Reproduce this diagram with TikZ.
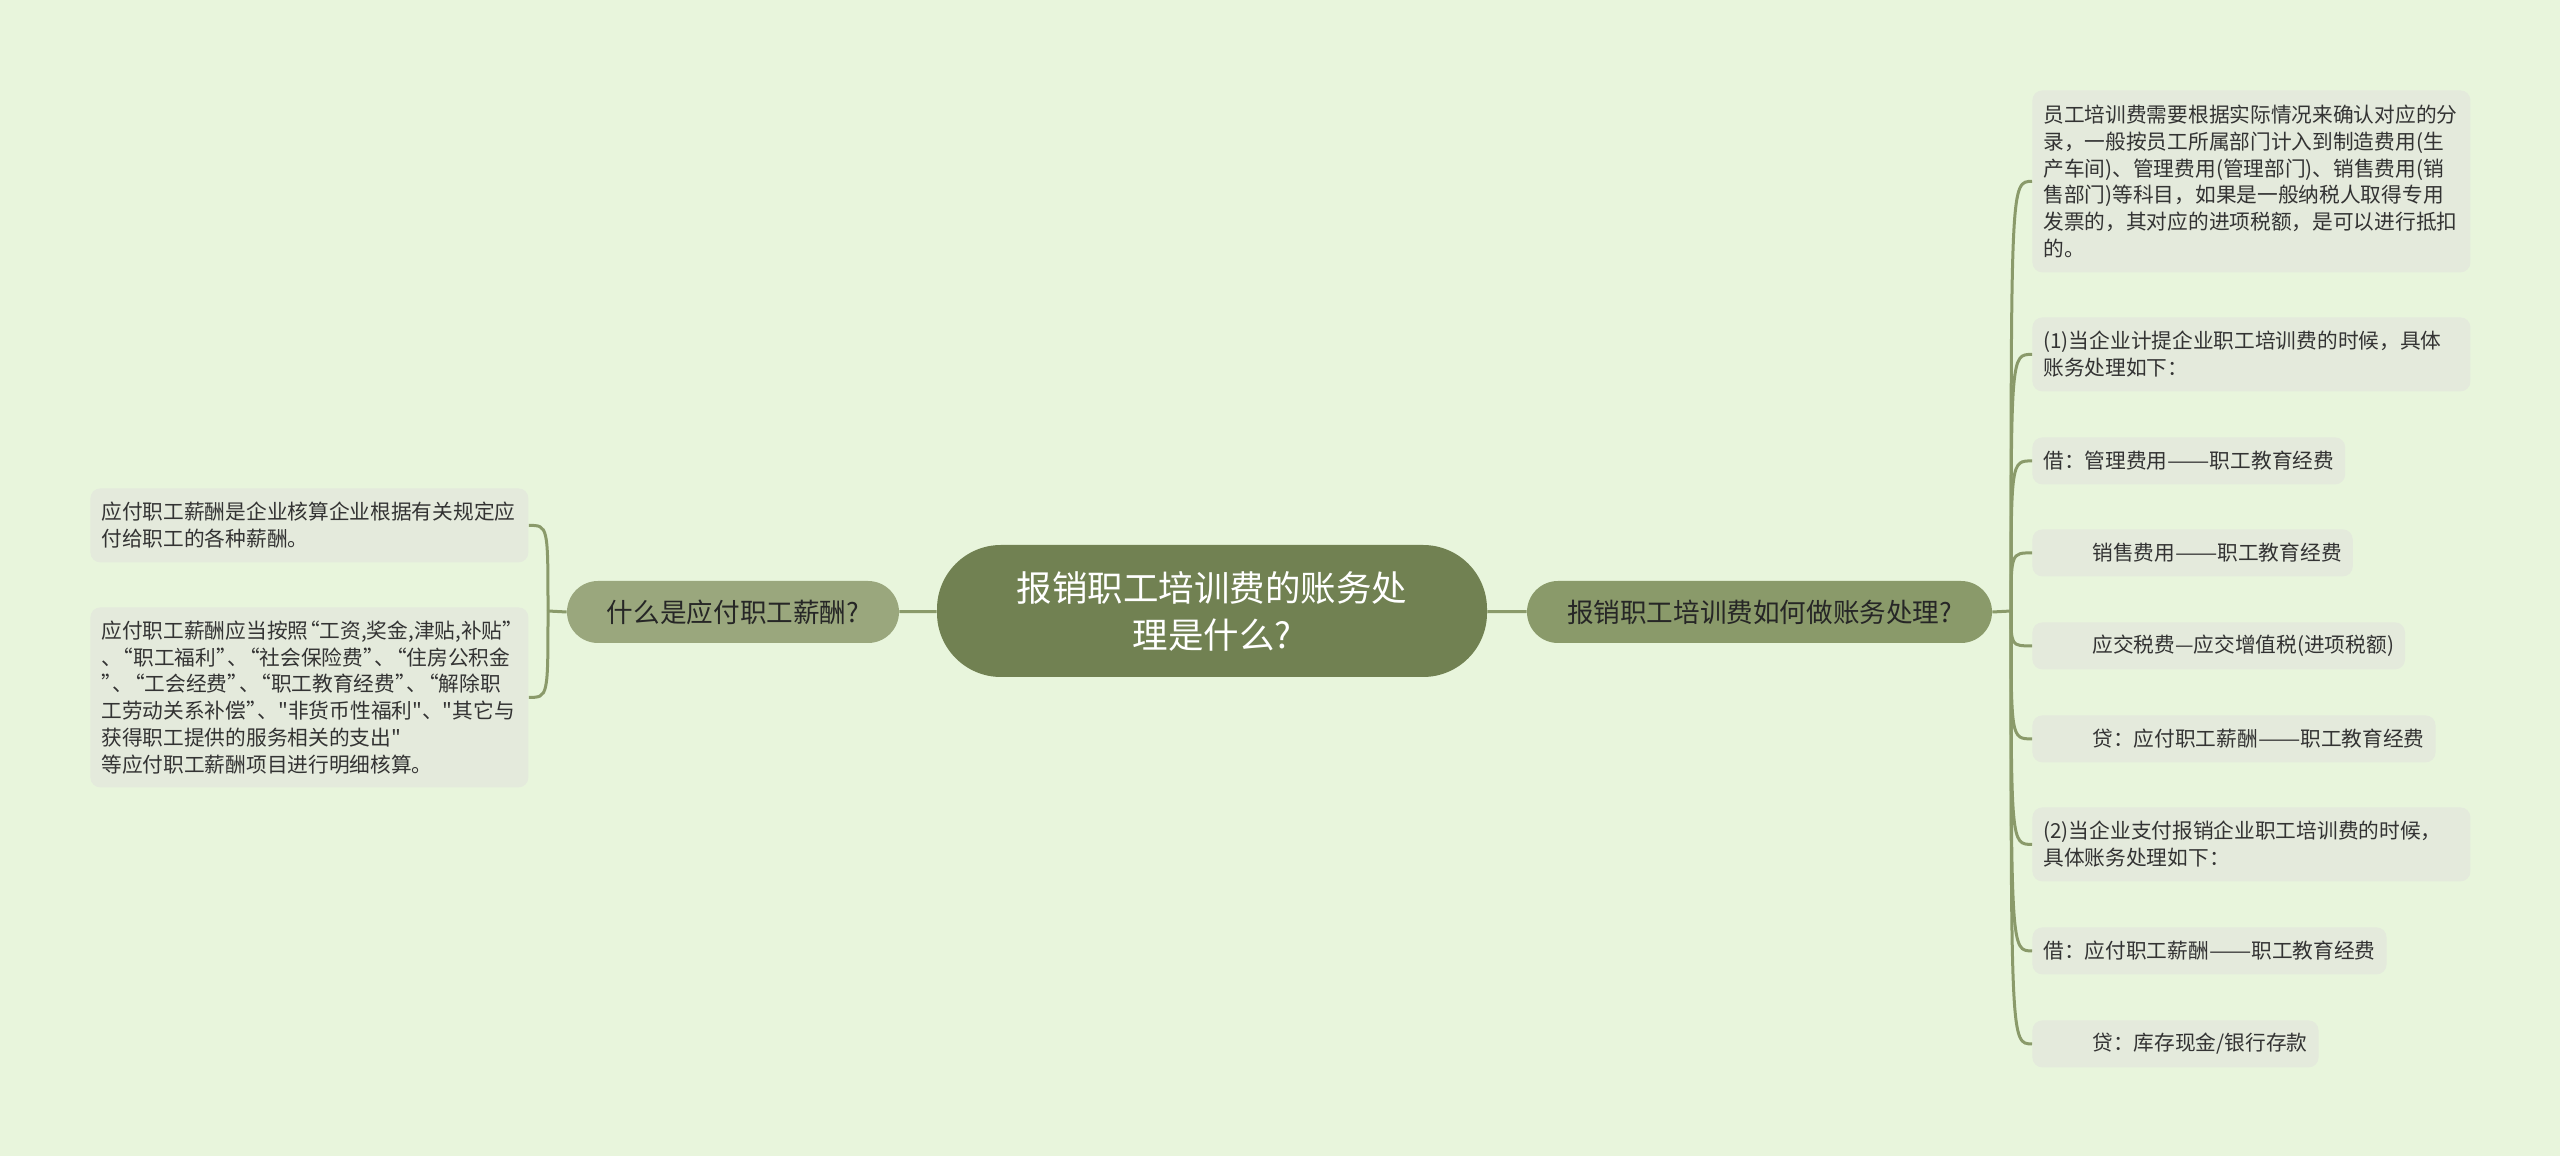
\documentclass[tikz,border=0pt]{standalone}
\usepackage{fontspec}
\usepackage{graphicx}
\newfontfamily\cjk{Noto Sans CJK SC}

\newcommand\qo{\makebox[0.55em][r]{“}}
\newcommand\qc{\makebox[0.55em][l]{”}}
\newcommand\ddash{\scalebox{1.22}[1]{——}}

\definecolor{bgcol}{HTML}{E8F5DC}
\definecolor{rootcol}{HTML}{718152}
\definecolor{leftcol}{HTML}{9AA77D}
\definecolor{rightcol}{HTML}{8A9A6A}
\definecolor{leafcol}{HTML}{E4EADC}
\definecolor{linecol}{HTML}{8A9A6A}
\definecolor{inkcol}{HTML}{333333}

\tikzset{
  root/.style={fill=rootcol, text=white, rounded corners=32bp, minimum width=275bp, minimum height=66bp, align=center, font=\cjk\fontsize{17.75bp}{23.5bp}\selectfont},
  topic/.style={rounded corners=15.5bp, minimum height=31bp, text=black!85, align=center, font=\cjk\fontsize{13.3bp}{16bp}\selectfont},
  leaf/.style={fill=leafcol, rounded corners=5bp, anchor=north west, inner xsep=5.5bp, inner ysep=0pt, minimum height=23.5bp, text=inkcol, align=left, font=\cjk\fontsize{10.35bp}{13.4bp}\selectfont},
  wide/.style={text width=208bp},
  link/.style={draw=linecol, line width=1.5bp}
}

\begin{document}
\begin{tikzpicture}[x=0.5bp, y=-0.5bp]

\useasboundingbox (0,0) rectangle (2560,1156);

\fill[bgcol] (0,0) rectangle (2560,1156);

\node[root] (root) at (1212,611) {报销职工培训费的账务处\\理是什么?};

\node[topic, fill=leftcol, minimum width=166bp] (what) at (733,612) {什么是应付职工薪酬?};

\node[topic, fill=rightcol, minimum width=232.5bp] (how) at (1759.5,612) {报销职工培训费如何做账务处理?};

\node[leaf, wide, minimum height=37bp] (w1) at (90,488) {应付职工薪酬是企业核算企业根据有关规定应\\付给职工的各种薪酬。};

\node[leaf, wide, minimum height=90bp] (w2) at (90,607) {应付职工薪酬应当按照\qo{}工资,奖金,津贴,补贴\qc{}\\、\qo{}职工福利\qc{}、\qo{}社会保险费\qc{}、\qo{}住房公积金\\\qc{}、\qo{}工会经费\qc{}、\qo{}职工教育经费\qc{}、\qo{}解除职\\工劳动关系补偿\qc{}、"非货币性福利"、"其它与\\获得职工提供的服务相关的支出"\\等应付职工薪酬项目进行明细核算。};

\node[leaf, wide, minimum height=91bp] (h1) at (2032,90) {员工培训费需要根据实际情况来确认对应的分\\录，一般按员工所属部门计入到制造费用(生\\产车间)、管理费用(管理部门)、销售费用(销\\售部门)等科目，如果是一般纳税人取得专用\\发票的，其对应的进项税额，是可以进行抵扣\\的。};

\node[leaf, wide, minimum height=37bp] (h2) at (2032,317) {(1)当企业计提企业职工培训费的时候，具体\\账务处理如下：};

\node[leaf] (h3) at (2032,437) {借：管理费用\ddash{}职工教育经费};

\node[leaf] (h4) at (2032,529) {\hspace*{24.5bp}销售费用\ddash{}职工教育经费};

\node[leaf] (h5) at (2032,622) {\hspace*{24.5bp}应交税费—应交增值税(进项税额)};

\node[leaf] (h6) at (2032,715) {\hspace*{24.5bp}贷：应付职工薪酬\ddash{}职工教育经费};

\node[leaf, wide, minimum height=37bp] (h7) at (2032,807) {(2)当企业支付报销企业职工培训费的时候，\\具体账务处理如下：};

\node[leaf] (h8) at (2032,927) {借：应付职工薪酬\ddash{}职工教育经费};

\node[leaf] (h9) at (2032,1020) {\hspace*{24.5bp}贷：库存现金/银行存款};

\coordinate (lj) at (548,611);

\coordinate (rj) at (2011,611);

\draw[link] (what) -- (root);

\draw[link] (root) -- (how);

\draw[link] (what.west) -- (lj);

\draw[link] (how.east) -- (rj);

\foreach \n in {w1,w2}
  \draw[link] (lj) .. controls (lj |- \n.east) .. (\n.east);

\foreach \n in {h1,h2,h3,h4,h5,h6,h7,h8,h9}
  \draw[link] (rj) .. controls (rj |- \n.west) .. (\n.west);

\end{tikzpicture}
\end{document}
